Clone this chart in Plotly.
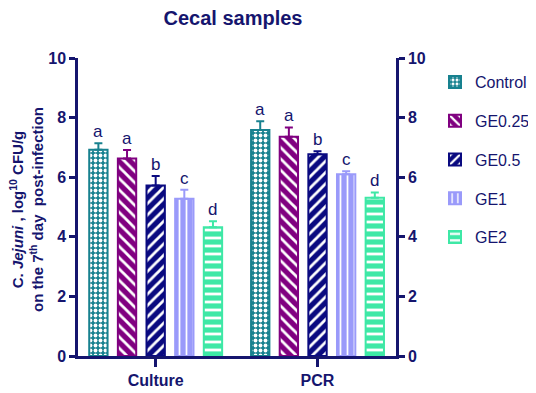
import plotly.graph_objects as go

# ---- data ----
categories = ["Culture", "PCR"]
groups = ["Control", "GE0.25", "GE0.5", "GE1", "GE2"]
means = {
    "Control": [6.92, 7.58],
    "GE0.25": [6.63, 7.36],
    "GE0.5": [5.72, 6.77],
    "GE1": [5.28, 6.10],
    "GE2": [4.32, 5.31],
}
errors = {
    "Control": [0.22, 0.30],
    "GE0.25": [0.28, 0.31],
    "GE0.5": [0.32, 0.10],
    "GE1": [0.30, 0.10],
    "GE2": [0.20, 0.18],
}
letters = {
    "Control": ["a", "a"],
    "GE0.25": ["a", "a"],
    "GE0.5": ["b", "b"],
    "GE1": ["c", "c"],
    "GE2": ["d", "d"],
}
y_ticks = [0, 2, 4, 6, 8, 10]
y_title = ("<b>C. <i>Jejuni</i> , log<sup>10</sup> CFU/g<br>"
           "on the 7<sup>th</sup> day  post-infection</b>")

# ---- styles ----
colors = {
    "Control": "#17818F",
    "GE0.25": "#800080",
    "GE0.5": "#0A0A80",
    "GE1": "#9A9AFA",
    "GE2": "#3EE8A6",
}
patterns = {
    "Control": dict(shape=".", size=5, solidity=0.45),
    "GE0.25": dict(shape="\\", size=8, solidity=0.35),
    "GE0.5": dict(shape="/", size=8, solidity=0.35),
    "GE1": dict(shape="|", size=7, solidity=0.25),
    "GE2": dict(shape="-", size=8, solidity=0.35),
}
NAVY = "#15156E"
FONT = "Liberation Sans, Arial, sans-serif"

# the page body adds an 8px offset, so the figure is 8px smaller than the window
W, H = 528, 385
ML, MR, MT, MB = 70, 140, 50, 37
XR = [-0.48, 1.485]
BARGAP = 0.115
BARGROUPGAP = 0.36

fig = go.Figure()
for g in groups:
    fig.add_trace(go.Bar(
        name=g, x=categories, y=means[g],
        marker=dict(color=colors[g], line=dict(color=colors[g], width=2),
                    pattern=dict(fillmode="overlay", fgcolor="white", fgopacity=1,
                                 **patterns[g])),
        error_y=dict(type="data", symmetric=False, array=errors[g],
                     arrayminus=[0] * len(categories),
                     color=colors[g], thickness=2, width=4),
        legendgroup=g,
    ))

# empty helper trace so the right-hand axis gets its labels
fig.add_trace(go.Scatter(x=categories, y=[None] * len(categories), yaxis="y2",
                         showlegend=False, hoverinfo="skip", mode="markers"))

# letters above error bars
plot_w = W - ML - MR
plot_h = H - MT - MB
px_per_unit = plot_w / (XR[1] - XR[0])
slot_px = (1 - BARGAP) / len(groups) * px_per_unit
annotations = []
for i, g in enumerate(groups):
    for j, c in enumerate(categories):
        annotations.append(dict(
            x=c, y=means[g][j] + errors[g][j], xref="x", yref="y",
            text=letters[g][j], showarrow=False, yanchor="bottom",
            xshift=(i - (len(groups) - 1) / 2) * slot_px, yshift=0,
            font=dict(family=FONT, size=17, color=NAVY),
        ))

# y-axis title as a rotated annotation (placed precisely in the left margin)
annotations.append(dict(
    text=y_title, textangle=-90, showarrow=False,
    xref="paper", yref="paper", x=(19 - ML) / plot_w, y=0.49,
    xanchor="center", yanchor="middle",
    font=dict(family=FONT, size=15, color=NAVY),
))

axis_common = dict(
    range=[0, 10], tickvals=y_ticks, ticks="outside", ticklen=6, tickwidth=2.5,
    tickcolor=NAVY, showline=True, linewidth=2.5, linecolor=NAVY,
    showgrid=False, zeroline=False,
    tickfont=dict(family=FONT, size=16, color=NAVY, weight="bold"),
)

fig.update_layout(
    width=W, height=H,
    margin=dict(l=ML, r=MR, t=MT, b=MB, autoexpand=False),
    paper_bgcolor="white", plot_bgcolor="white",
    barmode="group", bargap=BARGAP, bargroupgap=BARGROUPGAP,
    title=dict(text="<b>Cecal samples</b>", x=225 / W, xanchor="center",
               y=1 - 10 / H, yanchor="middle",
               font=dict(family=FONT, size=20, color=NAVY)),
    xaxis=dict(
        range=XR, ticks="outside", ticklen=8, tickwidth=2.5, tickcolor=NAVY,
        showline=True, linewidth=2.5, linecolor=NAVY, showgrid=False,
        tickfont=dict(family=FONT, size=16, color=NAVY, weight="bold"),
    ),
    yaxis=dict(**axis_common),
    yaxis2=dict(**axis_common, overlaying="y", side="right", anchor="x"),
    legend=dict(
        x=(427 - ML) / plot_w, xanchor="left", y=1 - 7 / plot_h, yanchor="top",
        font=dict(family=FONT, size=16, color=NAVY),
        tracegroupgap=15, bgcolor="rgba(0,0,0,0)",
    ),
    annotations=annotations,
    showlegend=True,
)

fig.write_html("out.html")
